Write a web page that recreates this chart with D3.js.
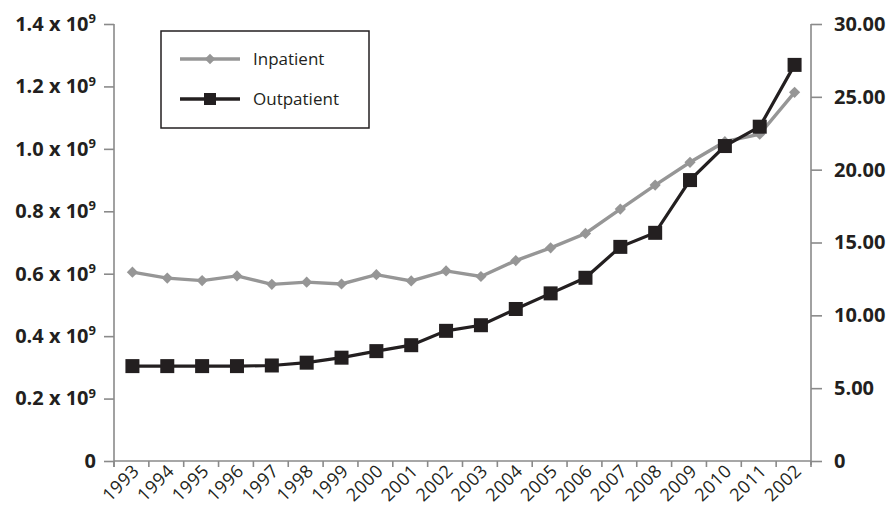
<!DOCTYPE html>
<html>
<head>
<meta charset="utf-8">
<script src="https://cdn.jsdelivr.net/npm/d3@7"></script>
<style>
  body { margin: 0; background: #fff; }
  svg { display: block; font-family: "Open Sans", "Noto Sans", sans-serif; }
</style>
</head>
<body>
<svg id="chart" width="893" height="508"></svg>
<script>
// year labels as printed (last one really says 2002 in the source)
var years = ["1993", "1994", "1995", "1996", "1997", "1998", "1999", "2000", "2001", "2002",
             "2003", "2004", "2005", "2006", "2007", "2008", "2009", "2010", "2011", "2002"];

// values in units of 10^9
var inpatient = [0.605, 0.586, 0.578, 0.593, 0.566, 0.573, 0.567, 0.597, 0.577, 0.609,
                 0.591, 0.642, 0.683, 0.729, 0.807, 0.884, 0.957, 1.023, 1.047, 1.181];
var outpatient = [0.304, 0.304, 0.304, 0.304, 0.306, 0.315, 0.331, 0.352, 0.371, 0.417,
                  0.435, 0.487, 0.537, 0.587, 0.686, 0.731, 0.900, 1.009, 1.071, 1.269];

var leftTicks = [0, 0.2, 0.4, 0.6, 0.8, 1.0, 1.2, 1.4];
var rightTicks = [0, 5, 10, 15, 20, 25, 30];

var svg = d3.select("#chart");
var plotL = 114, plotR = 811, plotT = 24, plotB = 461;
var axisColor = "#8a8a8a";

var x = d3.scaleBand()
    .domain(d3.range(years.length))
    .range([plotL, plotR]);

var y = d3.scaleLinear().domain([0, 1.4]).range([plotB, plotT]);
var y2 = d3.scaleLinear().domain([0, 30]).range([plotB, plotT]);

// left axis
var gl = svg.append("g").attr("transform", "translate(" + plotL + ",0)")
    .call(d3.axisLeft(y).tickValues(leftTicks).tickSize(10).tickPadding(8)
        .tickFormat(function() { return ""; }));
gl.selectAll(".tick text").each(function(d) {
    var t = d3.select(this)
        .attr("font-size", 20).attr("font-weight", "bold").attr("fill", "#231f20")
        .attr("font-family", "'Open Sans', sans-serif");
    if (d === 0) { t.text("0"); return; }
    t.append("tspan").text(d.toFixed(1) + " x 10");
    t.append("tspan").text("9").attr("font-size", 13).attr("dy", "-0.6em");
});

// right axis
var gr = svg.append("g").attr("transform", "translate(" + plotR + ",0)")
    .call(d3.axisRight(y2).tickValues(rightTicks).tickSize(11).tickPadding(12)
        .tickFormat(function(d) { return d === 0 ? "0" : d.toFixed(2); }));
gr.selectAll(".tick text")
    .attr("font-size", 20).attr("font-weight", "bold").attr("fill", "#231f20")
    .attr("font-family", "'Open Sans', sans-serif");

// bottom axis: ticks at category edges, labels at centers
var gb = svg.append("g").attr("transform", "translate(0," + plotB + ")");
gb.append("line").attr("x1", plotL).attr("x2", plotR).attr("y1", 0).attr("y2", 0);
gb.selectAll("line.edge")
    .data(d3.range(years.length + 1))
    .enter().append("line")
    .attr("class", "edge")
    .attr("x1", function(i) { return i < years.length ? x(i) : plotR; })
    .attr("x2", function(i) { return i < years.length ? x(i) : plotR; })
    .attr("y1", 0).attr("y2", 6);
gb.selectAll("line").attr("stroke", axisColor).attr("stroke-width", 1.6);
gb.selectAll("text.year")
    .data(years)
    .enter().append("text")
    .attr("class", "year")
    .attr("text-anchor", "end")
    .attr("font-size", 18)
    .attr("letter-spacing", 0.5)
    .attr("fill", "#231f20")
    .attr("transform", function(d, i) {
        return "translate(" + (x(i) + x.bandwidth() / 2 + 9) + ",11) rotate(-45)";
    })
    .text(function(d) { return d; });

svg.selectAll(".domain, .tick line").attr("stroke", axisColor).attr("stroke-width", 1.6);
gl.select(".domain").attr("d", "M0," + plotT + "V" + (plotB + 6));
gr.select(".domain").attr("d", "M0," + plotT + "V" + (plotB + 4));

var cx = function(d, i) { return x(i) + x.bandwidth() / 2 + 1; };
var line = d3.line().x(cx).y(function(d) { return y(d); });

// inpatient
svg.append("path").datum(inpatient)
    .attr("d", line).attr("fill", "none")
    .attr("stroke", "#969696").attr("stroke-width", 3.4);
svg.selectAll("path.dia").data(inpatient).enter().append("path")
    .attr("class", "dia")
    .attr("d", d3.symbol().type(d3.symbolDiamond2).size(80))
    .attr("transform", function(d, i) { return "translate(" + cx(d, i) + "," + y(d) + ")"; })
    .attr("fill", "#969696");

// outpatient
svg.append("path").datum(outpatient)
    .attr("d", line).attr("fill", "none")
    .attr("stroke", "#231f20").attr("stroke-width", 3.2);
svg.selectAll("rect.sq").data(outpatient).enter().append("rect")
    .attr("class", "sq")
    .attr("x", function(d, i) { return cx(d, i) - 7; })
    .attr("y", function(d) { return y(d) - 7; })
    .attr("width", 14).attr("height", 14)
    .attr("fill", "#231f20");

// legend
var lg = svg.append("g");
lg.append("rect").attr("x", 161).attr("y", 31).attr("width", 208).attr("height", 97)
    .attr("fill", "#fff").attr("stroke", "#231f20").attr("stroke-width", 1.5);
var items = [
    { name: "Inpatient", color: "#969696", y: 59 },
    { name: "Outpatient", color: "#231f20", y: 99 }
];
items.forEach(function(it, k) {
    lg.append("line").attr("x1", 180).attr("x2", 240).attr("y1", it.y).attr("y2", it.y)
        .attr("stroke", it.color).attr("stroke-width", 3.4);
    if (k === 0) {
        lg.append("path").attr("d", d3.symbol().type(d3.symbolDiamond2).size(70))
            .attr("transform", "translate(210," + it.y + ")").attr("fill", it.color);
    } else {
        lg.append("rect").attr("x", 204).attr("y", it.y - 6).attr("width", 12).attr("height", 12)
            .attr("fill", it.color);
    }
    lg.append("text").attr("x", 253).attr("y", it.y + 6)
        .attr("font-size", 17).attr("fill", "#231f20").text(it.name);
});
</script>
</body>
</html>
